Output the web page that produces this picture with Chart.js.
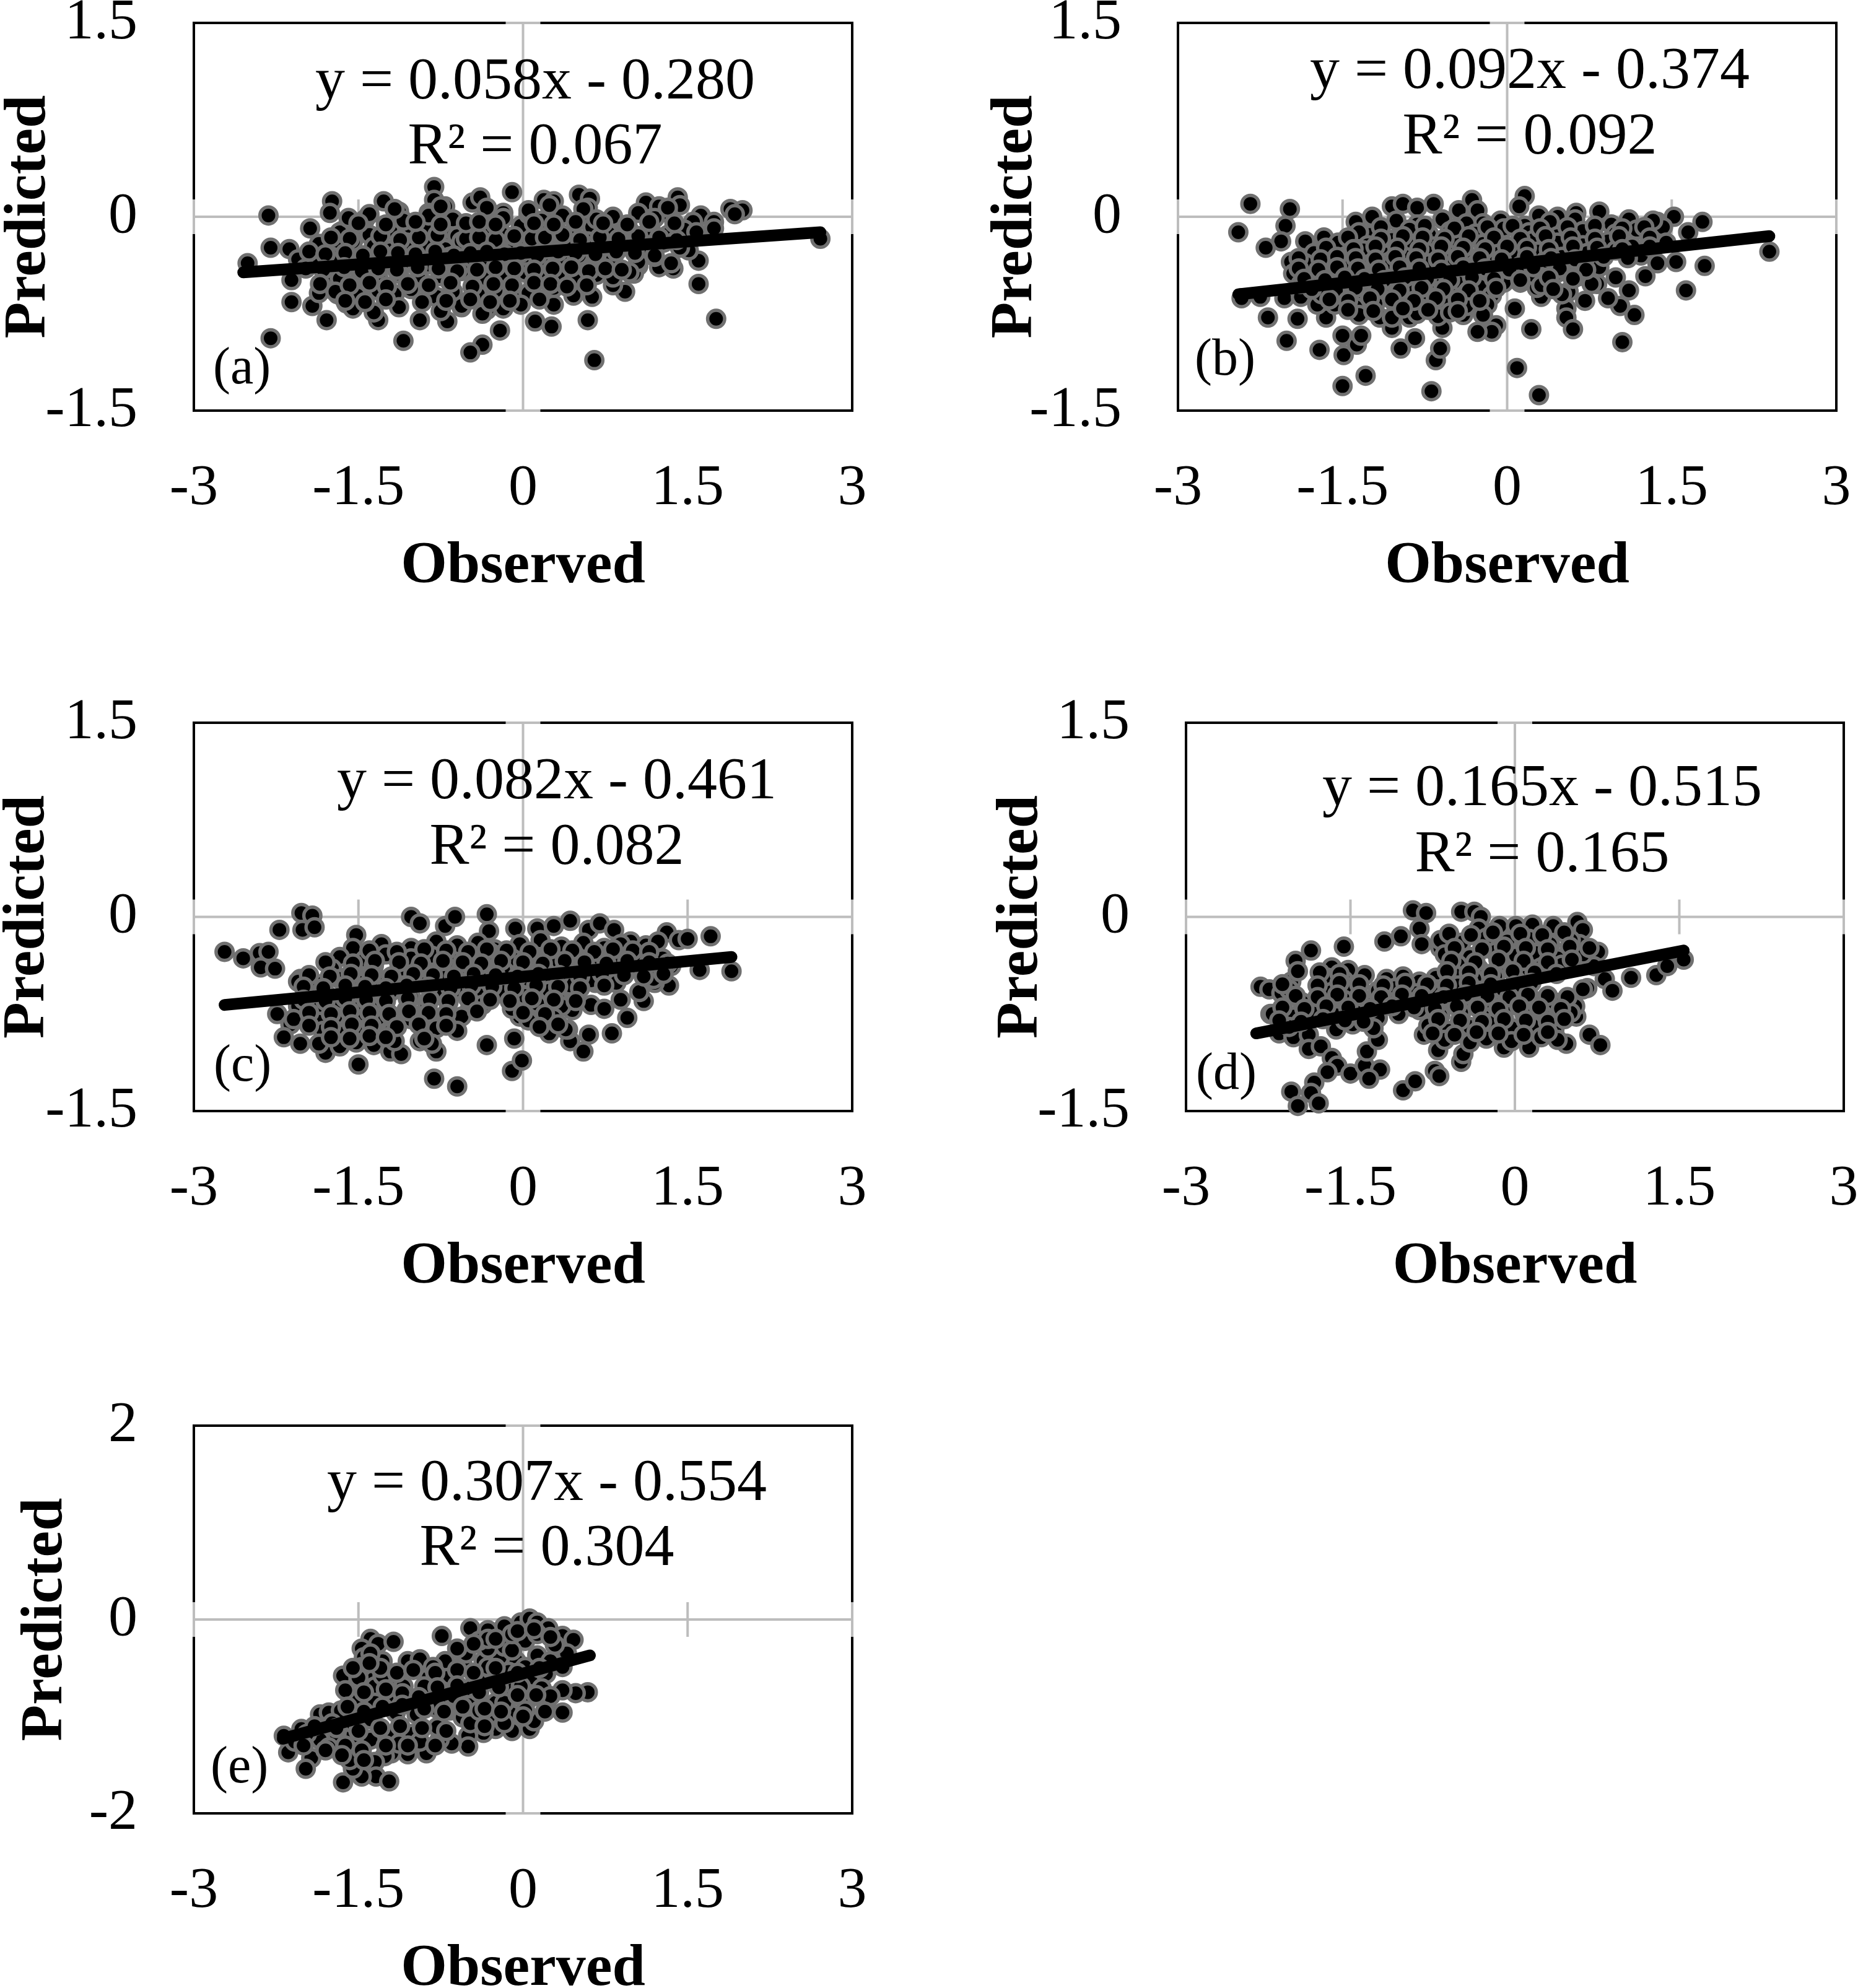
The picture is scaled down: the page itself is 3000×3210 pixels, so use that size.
<!DOCTYPE html>
<html>
<head>
<meta charset="utf-8">
<title>Observed vs Predicted</title>
<script src="https://cdn.jsdelivr.net/npm/chart.js@4.4.1/dist/chart.umd.min.js"></script>
<style>
  html, body { margin: 0; padding: 0; background: #fff; overflow: hidden; }
  #page { position: relative; width: 3000px; height: 3210px; overflow: hidden; background: #fff; }
  #page canvas { position: absolute; }
</style>
</head>
<body>
<div id="page"></div>
<script>
// observed / predicted pairs (outer points + dense core)
const panelA = [
  [-2.32,0.01],[-2.51,-0.36],[-2.30,-0.24],[-2.13,-0.25],[-1.94,-0.09],[-2.11,-0.49],[-2.11,-0.66],[-2.30,-0.94],
  [-1.92,-0.69],[-1.79,-0.80],[-1.86,-0.59],[-1.69,-0.60],[-1.61,-0.67],[-1.74,0.12],[-1.76,0.03],[-1.65,-0.11],
  [-1.46,-0.04],[-1.44,-0.02],[-1.27,0.12],[-1.13,0.04],[-1.09,-0.04],[-1.32,-0.80],[-1.09,-0.96],[-0.94,-0.80],
  [-0.69,-0.81],[-0.81,0.23],[-0.81,0.13],[-0.71,0.08],[-0.86,0.03],[-0.46,0.11],[-0.39,0.15],[-0.10,0.19],
  [-0.18,0.03],[-0.21,-0.88],[-0.37,-0.99],[-0.48,-1.05],[-0.56,-0.70],[-0.33,-0.72],[0.11,-0.81],[0.26,-0.85],
  [0.28,-0.68],[0.46,-0.61],[0.59,-0.80],[0.63,-0.62],[0.65,-1.11],[0.19,0.13],[0.28,0.12],[0.51,0.17],
  [0.61,0.14],[0.59,0.07],[0.61,-0.02],[0.82,-0.03],[0.93,-0.08],[1.12,0.11],[1.24,0.08],[1.41,0.15],
  [1.43,0.09],[1.32,0.03],[1.62,0.01],[1.74,-0.04],[1.89,0.06],[2.00,0.05],[1.93,0.02],[2.71,-0.17],
  [1.60,-0.34],[1.60,-0.52],[1.76,-0.79],[1.37,-0.40],[1.24,-0.39],[1.05,-0.38],[0.93,-0.58],[0.82,-0.53],
  [0.74,-0.38],[1.01,-0.44],[1.51,-0.26],[1.40,-0.19],[1.62,-0.14],[1.74,-0.09],[1.55,-0.04],
  [-1.67,-0.12],[-1.48,-0.09],[-1.40,-0.14],[-1.21,-0.10],[-1.02,-0.13],[-0.86,-0.08],[-0.71,-0.12],[-0.60,-0.15],
  [-0.48,-0.09],[-0.33,-0.11],[-0.18,-0.14],[-0.02,-0.07],[0.13,-0.12],[0.28,-0.10],[0.44,-0.15],[0.63,-0.08],
  [0.78,-0.13],[0.97,-0.11],[1.16,-0.09],[1.32,-0.14],[1.47,-0.10],[1.58,-0.12],
  [-1.86,-0.21],[-1.71,-0.24],[-1.55,-0.19],[-1.36,-0.23],[-1.21,-0.26],[-1.06,-0.20],[-0.90,-0.22],[-0.71,-0.25],
  [-0.56,-0.19],[-0.41,-0.23],[-0.25,-0.21],[-0.10,-0.26],[0.05,-0.20],[0.24,-0.24],[0.40,-0.22],[0.59,-0.19],
  [0.74,-0.25],[0.93,-0.21],[1.12,-0.23],[1.28,-0.20],[1.43,-0.24],
  [-2.05,-0.33],[-1.90,-0.36],[-1.74,-0.31],[-1.55,-0.35],[-1.40,-0.38],[-1.25,-0.32],[-1.06,-0.34],[-0.86,-0.37],
  [-0.67,-0.31],[-0.52,-0.35],[-0.33,-0.33],[-0.18,-0.38],[0.02,-0.32],[0.17,-0.36],[0.36,-0.34],[0.51,-0.30],
  [0.67,-0.37],[0.82,-0.33],[1.05,-0.35],[1.20,-0.31],[1.35,-0.36],
  [-1.78,-0.45],[-1.67,-0.48],[-1.48,-0.43],[-1.32,-0.47],[-1.13,-0.44],[-0.94,-0.49],[-0.75,-0.46],[-0.56,-0.42],
  [-0.33,-0.48],[-0.18,-0.45],[0.02,-0.43],[0.17,-0.47],[0.32,-0.44],[0.47,-0.49],[0.67,-0.45],[0.82,-0.47],[0.97,-0.43],
  [-1.71,-0.58],[-1.51,-0.61],[-1.32,-0.57],[-1.17,-0.60],[-1.02,-0.56],[-0.79,-0.62],[-0.64,-0.58],[-0.41,-0.60],
  [-0.25,-0.57],[-0.06,-0.61],[0.05,-0.59],[0.28,-0.55],
  [-1.55,-0.71],[-1.36,-0.74],[-1.13,-0.70],[-0.75,-0.73],[-0.56,-0.69],[-0.37,-0.75],[-0.18,-0.71],[-0.02,-0.68],
  [-1.59,-0.01],[-1.40,0.02],[-1.09,-0.03],[-0.86,0.01],[-0.64,-0.02],[-0.33,0.03],[-0.18,-0.01],[0.05,0.02],
  [0.17,-0.03],[0.36,0.01],[0.67,-0.02],[0.82,0.00],[1.05,0.03],[1.20,-0.01],
  [-1.17,0.06],[-0.75,0.08],[-0.33,0.07],[0.05,0.05],[0.24,0.09],[0.55,0.06],[1.32,0.07],
  [-1.75,-0.16],[-1.58,-0.17],[-1.30,-0.15],[-1.12,-0.18],[-0.95,-0.16],[-0.78,-0.14],[-0.52,-0.17],[-0.40,-0.16],
  [-0.25,-0.18],[-0.08,-0.15],[0.08,-0.17],[0.20,-0.16],[0.36,-0.14],[0.52,-0.18],[0.70,-0.16],[0.87,-0.17],
  [1.05,-0.15],[1.24,-0.16],[1.40,-0.18],
  [-1.95,-0.27],[-1.80,-0.29],[-1.62,-0.28],[-1.46,-0.30],[-1.30,-0.27],[-1.14,-0.28],[-0.98,-0.29],[-0.80,-0.27],
  [-0.63,-0.30],[-0.48,-0.28],[-0.33,-0.27],[-0.17,-0.29],[-0.02,-0.28],[0.13,-0.30],[0.32,-0.27],[0.48,-0.28],
  [0.66,-0.29],[0.85,-0.27],[1.02,-0.28],[1.20,-0.30],
  [-1.98,-0.40],[-1.82,-0.41],[-1.63,-0.39],[-1.47,-0.42],[-1.32,-0.40],[-1.15,-0.41],[-0.96,-0.39],[-0.77,-0.40],
  [-0.60,-0.42],[-0.42,-0.41],[-0.25,-0.39],[-0.08,-0.40],[0.10,-0.41],[0.27,-0.40],[0.44,-0.39],[0.60,-0.42],
  [0.75,-0.40],[0.90,-0.41],
  [-1.85,-0.52],[-1.58,-0.53],[-1.40,-0.51],[-1.24,-0.54],[-1.05,-0.52],[-0.86,-0.53],[-0.66,-0.51],[-0.46,-0.54],
  [-0.27,-0.52],[-0.10,-0.53],[0.10,-0.51],[0.25,-0.52],[0.40,-0.54],[0.58,-0.53],
  [-1.62,-0.65],[-1.44,-0.66],[-1.25,-0.64],[-0.92,-0.66],[-0.70,-0.65],[-0.48,-0.64],[-0.30,-0.66],[-0.12,-0.65],[0.15,-0.64],
  [-1.50,-0.05],[-1.25,-0.06],[-0.98,-0.04],[-0.75,-0.06],[-0.52,-0.05],[-0.40,-0.04],[-0.25,-0.06],[0.10,-0.05],
  [0.28,-0.06],[0.48,-0.04],[0.73,-0.05],[0.95,-0.06],[1.15,-0.04],[1.38,-0.05]
];

const panelB = [
  [-2.34,0.10],[-2.45,-0.12],[-1.98,0.06],[-2.02,-0.07],[-2.06,-0.19],[-2.20,-0.24],[-2.42,-0.63],[-2.25,-0.62],
  [-2.18,-0.78],[-2.03,-0.63],[-2.01,-0.96],[-1.91,-0.79],[-1.88,-0.62],[-1.97,-0.35],[-1.84,-0.19],[-1.67,-0.16],
  [-1.71,-1.03],[-1.50,-1.31],[-1.29,-1.23],[-1.49,-1.07],[-1.50,-0.92],[-1.37,-0.99],[-1.33,-0.92],[-1.65,-0.78],
  [-1.73,-0.68],[-1.05,0.08],[-0.95,0.10],[-0.82,0.07],[-0.67,0.10],[-1.01,-0.03],[-1.23,0.00],[-1.25,-0.14],
  [-0.44,0.05],[-0.32,0.13],[-0.27,0.05],[-0.22,-0.05],[0.16,0.16],[0.11,0.08],[0.29,0.01],[0.46,0.00],
  [0.63,0.03],[0.84,0.04],[1.11,-0.02],[1.37,-0.04],[1.52,0.00],[1.78,-0.04],[1.65,-0.12],[1.42,-0.08],
  [2.39,-0.27],[1.80,-0.38],[1.63,-0.57],[1.54,-0.35],[1.37,-0.36],[1.26,-0.46],[1.11,-0.57],[1.16,-0.76],
  [1.03,-0.69],[1.05,-0.97],[0.92,-0.63],[0.99,-0.47],[0.82,-0.52],[0.71,-0.65],[0.56,-0.58],[0.54,-0.71],
  [0.54,-0.78],[0.60,-0.87],[0.22,-0.87],[0.07,-0.71],[0.09,-1.17],[0.29,-1.38],[0.31,-0.62],[0.27,-0.55],
  [0.12,-0.51],[-0.10,-0.84],[-0.14,-0.89],[-0.27,-0.89],[-0.23,-0.68],[-0.69,-1.35],[-0.65,-1.11],[-0.61,-1.02],
  [-0.84,-0.94],[-0.97,-1.02],[-1.05,-0.86],[-1.16,-0.78],[-0.89,-0.78],[-0.59,-0.86],[-0.40,-0.76],
  [-1.38,-0.04],[-0.82,-0.06],[-0.59,-0.02],[-0.37,-0.05],[-0.06,-0.03],[0.16,-0.07],[0.39,-0.04],[0.62,-0.02],
  [0.95,-0.06],[1.33,-0.03],
  [-1.35,-0.12],[-0.89,-0.10],[-0.71,-0.14],[-0.52,-0.11],[-0.29,-0.13],[-0.03,-0.09],[0.20,-0.12],[0.46,-0.15],
  [0.69,-0.11],[0.99,-0.13],[1.18,-0.10],
  [-1.54,-0.20],[-1.27,-0.22],[-1.05,-0.18],[-0.86,-0.21],[-0.67,-0.23],[-0.44,-0.19],[-0.22,-0.21],[0.01,-0.24],
  [0.24,-0.18],[0.46,-0.20],[0.69,-0.22],[0.92,-0.19],[1.14,-0.23],[1.45,-0.20],
  [-1.76,-0.28],[-1.46,-0.30],[-1.31,-0.26],[-1.12,-0.29],[-0.93,-0.31],[-0.74,-0.27],[-0.55,-0.28],[-0.37,-0.30],
  [-0.14,-0.26],[0.05,-0.29],[0.28,-0.27],[0.50,-0.31],[0.73,-0.28],[0.99,-0.26],[1.22,-0.30],
  [-1.84,-0.36],[-1.65,-0.38],[-1.46,-0.34],[-1.27,-0.37],[-1.08,-0.35],[-0.89,-0.39],[-0.71,-0.36],[-0.52,-0.33],
  [-0.29,-0.37],[-0.10,-0.35],[0.12,-0.38],[0.35,-0.34],[0.62,-0.36],[0.84,-0.39],
  [-1.95,-0.44],[-1.76,-0.46],[-1.57,-0.42],[-1.38,-0.45],[-1.20,-0.43],[-1.01,-0.47],[-0.82,-0.44],[-0.59,-0.42],
  [-0.40,-0.46],[-0.22,-0.44],[0.01,-0.41],[0.24,-0.45],[0.46,-0.43],[0.65,-0.46],
  [-1.88,-0.52],[-1.65,-0.54],[-1.46,-0.50],[-1.27,-0.53],[-1.08,-0.51],[-0.86,-0.55],[-0.67,-0.52],[-0.44,-0.50],
  [-0.25,-0.54],[-0.03,-0.51],[0.31,-0.53],[0.77,-0.52],
  [-1.69,-0.60],[-1.50,-0.62],[-1.31,-0.59],[-1.12,-0.61],[-0.89,-0.58],[-0.71,-0.62],[-0.52,-0.60],[-0.37,-0.59],
  [-0.14,-0.61],[0.50,-0.60],
  [-1.57,-0.68],[-1.38,-0.70],[-1.20,-0.67],[-1.01,-0.69],[-0.78,-0.71],[-0.55,-0.67],[-0.37,-0.69],[-0.18,-0.68],
  [-1.35,-0.76],[-1.05,-0.78],[-0.82,-0.75],[-0.63,-0.77],[-0.52,-0.74],[-0.22,-0.76],
  [-1.15,-0.08],[-0.75,-0.07],[-0.48,-0.09],[-0.18,-0.08],[0.05,-0.07],[0.30,-0.09],[0.55,-0.08],[0.80,-0.07],
  [1.05,-0.09],[1.25,-0.08],
  [-1.45,-0.16],[-1.15,-0.17],[-0.95,-0.15],[-0.77,-0.16],[-0.57,-0.17],[-0.35,-0.15],[-0.12,-0.16],[0.12,-0.17],
  [0.35,-0.15],[0.58,-0.16],[0.80,-0.17],[1.02,-0.15],[1.30,-0.16],
  [-1.65,-0.24],[-1.40,-0.25],[-1.20,-0.23],[-1.00,-0.24],[-0.80,-0.25],[-0.60,-0.23],[-0.40,-0.24],[-0.20,-0.25],
  [0.00,-0.23],[0.18,-0.24],[0.38,-0.25],[0.60,-0.23],[0.82,-0.24],[1.05,-0.25],[1.30,-0.23],
  [-1.90,-0.32],[-1.70,-0.33],[-1.55,-0.31],[-1.38,-0.32],[-1.20,-0.33],[-1.02,-0.31],[-0.83,-0.32],[-0.63,-0.33],
  [-0.45,-0.31],[-0.25,-0.32],[-0.05,-0.33],[0.18,-0.31],[0.40,-0.32],[0.62,-0.33],[0.88,-0.31],[1.10,-0.32],
  [-1.90,-0.40],[-1.72,-0.41],[-1.55,-0.39],[-1.36,-0.40],[-1.17,-0.41],[-0.98,-0.39],[-0.80,-0.40],[-0.60,-0.41],
  [-0.40,-0.39],[-0.20,-0.40],[0.02,-0.41],[0.24,-0.39],[0.48,-0.40],[0.72,-0.41],
  [-1.85,-0.48],[-1.66,-0.49],[-1.48,-0.47],[-1.30,-0.48],[-1.12,-0.49],[-0.93,-0.47],[-0.73,-0.48],[-0.52,-0.49],
  [-0.32,-0.47],[-0.12,-0.48],[0.12,-0.49],[0.38,-0.47],[0.60,-0.48],
  [-1.78,-0.56],[-1.56,-0.57],[-1.38,-0.55],[-1.18,-0.56],[-0.98,-0.57],[-0.78,-0.55],[-0.58,-0.56],[-0.35,-0.57],
  [-0.10,-0.55],[0.42,-0.56],
  [-1.62,-0.64],[-1.45,-0.65],[-1.25,-0.63],[-1.05,-0.64],[-0.85,-0.65],[-0.65,-0.63],[-0.45,-0.64],[-0.25,-0.65],
  [-1.45,-0.72],[-1.22,-0.73],[-0.95,-0.71],[-0.72,-0.72],[-0.45,-0.73]
];

const panelC = [
  [-2.72,-0.27],[-2.55,-0.32],[-2.40,-0.28],[-2.32,-0.27],[-2.39,-0.39],[-2.26,-0.40],[-2.22,-0.10],[-2.02,0.03],
  [-1.92,0.01],[-2.01,-0.10],[-1.90,-0.08],[-1.52,-0.14],[-1.55,-0.24],[-2.03,-0.48],[-2.24,-0.75],[-2.12,-0.83],
  [-2.18,-0.93],[-2.03,-0.98],[-1.80,-1.05],[-1.50,-1.14],[-1.21,-1.04],[-1.11,-1.06],[-0.81,-1.25],[-0.60,-1.31],
  [-0.79,-1.04],[-0.33,-0.99],[-0.10,-1.19],[-0.01,-1.11],[-0.08,-0.94],[-0.94,-0.96],[-1.02,0.00],[-0.94,-0.05],
  [-0.71,-0.07],[-0.62,0.00],[-0.33,0.02],[-0.31,-0.11],[-0.07,-0.09],[0.13,-0.09],[0.28,-0.07],[0.43,-0.03],
  [0.60,-0.10],[0.70,-0.05],[0.83,-0.10],[0.98,-0.19],[1.12,-0.22],[1.31,-0.12],[1.42,-0.18],[1.50,-0.17],
  [1.71,-0.15],[1.61,-0.41],[1.90,-0.42],[1.33,-0.53],[1.20,-0.51],[1.10,-0.65],[1.06,-0.58],[0.89,-0.64],
  [0.95,-0.78],[0.81,-0.90],[0.60,-0.91],[0.43,-0.96],[0.55,-1.04],[0.41,-0.87],[0.26,-0.81],[0.09,-0.79],
  [-0.03,-0.77],[0.16,-0.71],[0.32,-0.64],[0.62,-0.68],[0.74,-0.71],[0.45,-0.72],[0.66,-0.51],[0.51,-0.50],
  [-1.29,-0.21],[-1.02,-0.24],[-0.79,-0.19],[-0.60,-0.22],[-0.41,-0.20],[-0.26,-0.25],[-0.03,-0.21],[0.16,-0.18],
  [0.35,-0.23],[0.55,-0.20],[0.74,-0.24],[0.89,-0.21],[1.23,-0.19],
  [-1.67,-0.31],[-1.44,-0.33],[-1.25,-0.29],[-1.02,-0.32],[-0.83,-0.30],[-0.64,-0.34],[-0.48,-0.31],[-0.29,-0.28],
  [-0.10,-0.32],[0.09,-0.30],[0.28,-0.33],[0.47,-0.29],[0.66,-0.31],[0.85,-0.34],[1.04,-0.30],[1.27,-0.32],
  [-1.74,-0.40],[-1.55,-0.42],[-1.36,-0.38],[-1.13,-0.41],[-0.94,-0.39],[-0.75,-0.43],[-0.56,-0.40],[-0.37,-0.37],
  [-0.18,-0.41],[0.01,-0.39],[0.20,-0.42],[0.39,-0.38],[0.58,-0.40],[0.77,-0.43],[0.97,-0.39],[1.16,-0.41],[1.35,-0.38],
  [-2.05,-0.50],[-1.86,-0.52],[-1.67,-0.48],[-1.48,-0.51],[-1.29,-0.49],[-1.10,-0.53],[-0.90,-0.50],[-0.71,-0.47],
  [-0.52,-0.51],[-0.33,-0.49],[-0.14,-0.52],[0.05,-0.48],[0.24,-0.50],[0.43,-0.53],[0.62,-0.49],[0.85,-0.51],[1.19,-0.48],
  [-1.97,-0.59],[-1.78,-0.61],[-1.59,-0.57],[-1.40,-0.60],[-1.21,-0.58],[-1.02,-0.62],[-0.79,-0.59],[-0.60,-0.56],
  [-0.41,-0.60],[-0.18,-0.58],[0.01,-0.61],[0.24,-0.57],
  [-2.05,-0.69],[-1.86,-0.71],[-1.67,-0.67],[-1.48,-0.70],[-1.29,-0.68],[-1.06,-0.72],[-0.87,-0.69],[-0.68,-0.66],
  [-0.48,-0.70],[-0.37,-0.68],[-0.10,-0.71],[0.13,-0.67],[0.35,-0.69],
  [-2.09,-0.79],[-1.86,-0.81],[-1.71,-0.77],[-1.52,-0.80],[-1.32,-0.78],[-1.17,-0.82],[-1.02,-0.79],[-0.56,-0.77],
  [0.05,-0.80],[0.28,-0.78],
  [-1.82,-0.88],[-1.63,-0.90],[-1.44,-0.87],[-1.21,-0.89],[-0.79,-0.86],[-0.60,-0.88],[0.24,-0.90],[0.39,-0.87],
  [-1.86,-0.98],[-1.67,-1.00],[-1.52,-0.97],[-1.36,-0.99],[-1.17,-0.96],[-0.83,-0.98],
  [-1.40,-0.26],[-1.15,-0.27],[-0.90,-0.25],[-0.70,-0.26],[-0.50,-0.27],[-0.33,-0.25],[-0.15,-0.26],[0.06,-0.27],
  [0.25,-0.25],[0.45,-0.26],[0.65,-0.27],[0.82,-0.25],[1.00,-0.26],[1.15,-0.27],
  [-1.80,-0.35],[-1.55,-0.36],[-1.35,-0.34],[-1.13,-0.35],[-0.93,-0.36],[-0.73,-0.34],[-0.55,-0.35],[-0.38,-0.36],
  [-0.20,-0.34],[0.00,-0.35],[0.18,-0.36],[0.38,-0.34],[0.56,-0.35],[0.76,-0.36],[0.95,-0.34],[1.15,-0.35],[1.32,-0.36],
  [-1.95,-0.45],[-1.76,-0.46],[-1.57,-0.44],[-1.38,-0.45],[-1.20,-0.46],[-1.00,-0.44],[-0.82,-0.45],[-0.63,-0.46],
  [-0.45,-0.44],[-0.25,-0.45],[-0.05,-0.46],[0.14,-0.44],[0.33,-0.45],[0.52,-0.46],[0.72,-0.44],[0.92,-0.45],
  [1.10,-0.46],[1.28,-0.44],
  [-2.00,-0.54],[-1.82,-0.55],[-1.62,-0.53],[-1.44,-0.54],[-1.25,-0.55],[-1.06,-0.53],[-0.86,-0.54],[-0.66,-0.55],
  [-0.47,-0.53],[-0.28,-0.54],[-0.08,-0.55],[0.12,-0.53],[0.32,-0.54],[0.52,-0.55],[0.74,-0.53],
  [-2.00,-0.64],[-1.80,-0.65],[-1.62,-0.63],[-1.43,-0.64],[-1.25,-0.65],[-1.05,-0.63],[-0.85,-0.64],[-0.68,-0.65],
  [-0.50,-0.63],[-0.30,-0.64],[-0.12,-0.65],[0.08,-0.63],[0.28,-0.64],[0.48,-0.65],
  [-1.95,-0.74],[-1.75,-0.75],[-1.58,-0.73],[-1.40,-0.74],[-1.22,-0.75],[-1.04,-0.73],[-0.86,-0.74],[-0.70,-0.75],
  [-0.42,-0.73],[0.00,-0.74],[0.20,-0.75],
  [-1.95,-0.84],[-1.75,-0.85],[-1.56,-0.83],[-1.38,-0.84],[-1.15,-0.85],[-0.95,-0.83],[-0.70,-0.84],[0.15,-0.85],[0.32,-0.83],
  [-1.75,-0.93],[-1.58,-0.94],[-1.40,-0.92],[-1.25,-0.93],[-0.90,-0.94]
];

const panelD = [
  [-2.32,-0.54],[-2.24,-0.56],[-2.13,-0.59],[-2.04,-0.50],[-2.00,-0.34],[-1.86,-0.26],[-1.98,-0.42],[-1.56,-0.23],
  [-2.23,-0.75],[-2.11,-0.74],[-2.15,-0.90],[-2.02,-0.93],[-1.88,-0.91],[-1.88,-1.02],[-1.77,-1.00],[-1.67,-1.09],
  [-1.62,-1.15],[-1.71,-1.20],[-1.83,-1.28],[-2.04,-1.35],[-1.86,-1.36],[-1.98,-1.46],[-1.79,-1.44],[-1.50,-1.21],
  [-1.37,-1.15],[-1.35,-1.04],[-1.23,-1.18],[-1.33,-1.25],[-1.25,-0.95],[-1.02,-1.34],[-0.91,-1.27],[-0.73,-1.19],
  [-0.69,-1.23],[-0.49,-1.12],[-0.47,-1.06],[-0.70,-1.03],[-0.83,-0.91],[-0.93,0.05],[-0.81,0.03],[-0.87,-0.09],
  [-0.85,-0.21],[-0.68,-0.24],[-1.04,-0.15],[-1.19,-0.19],[-0.49,0.04],[-0.37,0.04],[-0.31,0.00],[-0.33,-0.09],
  [-0.14,-0.07],[0.01,-0.07],[0.16,-0.06],[0.35,-0.07],[0.57,-0.04],[0.62,-0.10],[0.59,-0.21],[0.76,-0.27],
  [0.82,-0.48],[0.89,-0.57],[1.06,-0.47],[1.29,-0.45],[1.39,-0.38],[1.54,-0.33],[0.68,-0.91],[0.78,-0.99],
  [0.47,-0.98],[0.56,-0.77],[0.54,-0.69],[0.32,-0.64],[0.13,-1.01],[-0.10,-1.01],[0.01,-0.90],[0.72,-0.38],[0.66,-0.55],
  [-0.68,-0.18],[-0.49,-0.20],[-0.26,-0.16],[-0.07,-0.19],[0.13,-0.17],[0.32,-0.21],[0.51,-0.18],
  [-0.64,-0.29],[-0.41,-0.31],[-0.18,-0.27],[0.01,-0.30],[0.20,-0.28],[0.39,-0.32],[0.62,-0.29],
  [-1.67,-0.39],[-1.52,-0.41],[-0.52,-0.37],[-0.33,-0.40],[-0.14,-0.38],[0.05,-0.42],[0.24,-0.39],[0.43,-0.37],
  [-1.71,-0.47],[-1.56,-0.49],[-1.37,-0.45],[-1.17,-0.48],[-1.02,-0.46],[-0.87,-0.50],[-0.72,-0.47],[-0.56,-0.44],
  [-0.37,-0.48],[-0.18,-0.46],[0.01,-0.49],[0.20,-0.45],
  [-2.06,-0.56],[-1.67,-0.58],[-1.48,-0.54],[-1.25,-0.57],[-1.10,-0.55],[-0.91,-0.59],[-0.72,-0.56],[-0.52,-0.53],
  [-0.33,-0.57],[-0.14,-0.55],[0.05,-0.58],[0.62,-0.56],
  [-1.94,-0.66],[-1.75,-0.68],[-1.56,-0.64],[-1.37,-0.67],[-1.17,-0.65],[-0.98,-0.69],[-0.79,-0.66],[-0.60,-0.63],
  [-0.41,-0.67],[-0.22,-0.65],[-0.03,-0.68],[0.16,-0.64],[0.36,-0.66],[0.55,-0.69],
  [-2.21,-0.75],[-2.02,-0.77],[-1.83,-0.73],[-1.63,-0.76],[-1.44,-0.74],[-1.25,-0.78],[-1.06,-0.75],[-0.87,-0.72],
  [-0.68,-0.76],[-0.49,-0.74],[-0.29,-0.77],[-0.10,-0.73],[0.09,-0.75],[0.28,-0.78],[0.51,-0.74],
  [-2.06,-0.85],[-1.63,-0.87],[-1.48,-0.83],[-1.29,-0.86],[-0.79,-0.84],[-0.60,-0.88],[-0.41,-0.85],[-0.22,-0.82],
  [-0.03,-0.86],[0.16,-0.84],[0.36,-0.87],
  [-0.64,-0.95],[-0.41,-0.97],[-0.26,-0.94],[-0.03,-0.96],[0.24,-0.93],[0.39,-0.95],
  [-0.60,-0.13],[-0.40,-0.14],[-0.20,-0.12],[0.05,-0.13],[0.25,-0.14],[0.45,-0.12],
  [-0.55,-0.24],[-0.30,-0.25],[-0.10,-0.23],[0.10,-0.24],[0.30,-0.25],[0.50,-0.23],[0.68,-0.24],
  [-0.58,-0.34],[-0.36,-0.35],[-0.15,-0.33],[0.08,-0.34],[0.30,-0.35],[0.52,-0.33],
  [-1.78,-0.43],[-1.60,-0.44],[-0.62,-0.42],[-0.42,-0.43],[-0.22,-0.44],[-0.02,-0.42],[0.18,-0.43],[0.38,-0.44],
  [-2.12,-0.52],[-1.80,-0.53],[-1.60,-0.51],[-1.42,-0.52],[-1.20,-0.53],[-1.00,-0.51],[-0.80,-0.52],[-0.62,-0.53],
  [-0.42,-0.51],[-0.22,-0.52],[0.00,-0.53],[0.15,-0.51],
  [-2.00,-0.61],[-1.80,-0.62],[-1.62,-0.60],[-1.42,-0.61],[-1.22,-0.62],[-1.03,-0.60],[-0.85,-0.61],[-0.65,-0.62],
  [-0.45,-0.60],[-0.25,-0.61],[-0.05,-0.62],[0.12,-0.60],[0.30,-0.61],[0.48,-0.62],
  [-2.12,-0.70],[-1.92,-0.71],[-1.72,-0.69],[-1.52,-0.70],[-1.32,-0.71],[-1.12,-0.69],[-0.92,-0.70],[-0.73,-0.71],
  [-0.53,-0.69],[-0.34,-0.70],[-0.15,-0.71],[0.04,-0.69],[0.22,-0.70],[0.42,-0.71],
  [-2.15,-0.80],[-1.95,-0.81],[-1.75,-0.79],[-1.55,-0.80],[-1.38,-0.81],[-0.70,-0.79],[-0.50,-0.80],[-0.30,-0.81],
  [-0.10,-0.79],[0.10,-0.80],[0.30,-0.81],[0.45,-0.79],
  [-0.75,-0.90],[-0.55,-0.91],[-0.35,-0.89],[-0.15,-0.90],[0.08,-0.91],[0.30,-0.89]
];

const panelE = [
  [-0.74,-0.17],[-1.39,-0.20],[-1.32,-0.25],[-1.18,-0.23],[-1.47,-0.30],[-1.45,-0.39],[-0.48,-0.09],[-0.32,-0.11],
  [-0.17,-0.07],[-0.02,-0.03],[0.06,0.01],[0.13,-0.03],[0.23,-0.09],[0.36,-0.17],[0.46,-0.21],[0.40,-0.35],
  [0.59,-0.75],[0.48,-0.76],[0.36,-0.73],[0.36,-0.96],[0.21,-0.86],[0.06,-1.13],[-0.10,-1.15],[-0.25,-1.13],
  [-0.36,-1.17],[-0.50,-1.20],[-0.50,-1.31],[-0.65,-1.28],[-0.76,-1.24],[-0.88,-1.38],[-1.05,-1.39],[-1.20,-1.38],
  [-1.26,-1.41],[-1.35,-1.47],[-1.34,-1.62],[-1.22,-1.67],[-1.47,-1.62],[-1.64,-1.68],[-1.55,-1.54],[-1.58,-1.45],
  [-1.93,-1.43],[-1.98,-1.54],[-2.12,-1.28],[-2.18,-1.20],[-2.14,-1.37],[-2.02,-1.13],[-1.85,-0.98],[-1.77,-0.96],
  [-1.66,-0.94],[-1.58,-0.60],[-1.64,-0.58],[-1.39,-0.54],[-1.35,-0.69],[-1.24,-0.64],[-1.05,-0.43],[-0.94,-0.41],
  [-0.86,-0.60],[-0.71,-0.69],[-0.55,-0.47],[-0.36,-0.43],[-0.21,-0.39],[-0.06,-0.43],[0.10,-0.60],[0.21,-0.56],
  [-0.10,-0.73],[0.06,-0.81],[-0.25,-0.86],[-0.48,-0.83],[-0.67,-0.94],[-0.55,-1.01],[-0.32,-1.01],[-0.10,-0.98],
  [0.10,-1.05],[-1.05,-0.81],[-1.24,-0.79],[-1.35,-0.86],[-1.51,-0.81],[-0.86,-0.77],[-0.71,-0.81],[-1.01,-1.18],
  [-1.24,-1.18],[-1.39,-1.24],[-1.55,-1.20],[-1.70,-1.18],[-1.85,-1.24],[-1.13,-1.28],[-0.67,-0.58],[-0.25,-0.60],
  [-0.48,-0.71],[-0.17,-0.28],[-0.32,-0.30],[0.02,-0.22],[0.13,-0.37],[-0.10,-0.32],[-0.40,-0.22],
  [-1.47,-0.49],[-1.28,-0.58],[-1.09,-0.69],[-0.90,-0.69],[-1.16,-0.96],[-0.97,-0.98],[-0.78,-0.92],[-0.63,-0.79],
  [-0.40,-0.64],[-0.32,-0.49],[-0.13,-0.54],[0.02,-0.49],[-0.02,-0.69],[0.17,-0.71],[0.25,-0.43],[0.29,-0.26],
  [0.13,-0.15],[-0.10,-0.15],[-0.32,-0.20],[-0.52,-0.35],[-0.71,-0.43],[-0.82,-0.49],[-1.28,-0.43],[-1.39,-0.35],
  [-1.62,-0.73],[-1.74,-1.07],[-1.55,-1.07],[-1.39,-1.03],[-1.97,-1.18],[-2.08,-1.26],[-1.77,-1.32],[-1.62,-1.30],
  [-1.47,-1.35],[-0.94,-1.26],[-0.78,-1.11],[-0.48,-1.07],[-0.17,-1.07],[-0.40,-0.94],[-0.17,-0.86],[0.02,-0.94],
  [0.25,-0.79],[0.36,-0.49],
  [-1.50,-0.60],[-1.30,-0.50],[-1.15,-0.55],[-1.00,-0.52],[-0.80,-0.55],[-0.60,-0.52],[-0.45,-0.55],[-0.25,-0.50],
  [-0.05,-0.55],[0.15,-0.50],
  [-1.45,-0.75],[-1.25,-0.72],[-1.10,-0.76],[-0.95,-0.80],[-0.78,-0.70],[-0.60,-0.68],[-0.40,-0.75],[-0.22,-0.70],
  [-0.05,-0.78],[0.12,-0.78],
  [-1.60,-0.90],[-1.45,-0.95],[-1.28,-0.90],[-1.10,-0.88],[-0.90,-0.92],[-0.72,-0.95],[-0.55,-0.90],[-0.35,-0.92],
  [-0.20,-0.95],[0.00,-1.00],[0.20,-0.95],
  [-1.90,-1.10],[-1.70,-1.12],[-1.50,-1.15],[-1.30,-1.12],[-1.12,-1.10],[-0.92,-1.12],[-0.70,-1.15],[-0.35,-1.10],
  [-2.00,-1.30],[-1.80,-1.35],[-1.65,-1.40],[-1.45,-1.45],[-1.25,-1.30],[-1.05,-1.30],[-0.80,-1.30],
  [-0.60,-0.30],[-0.45,-0.25],[-0.25,-0.20],[-0.05,-0.12],[0.10,-0.10],[0.25,-0.18],[-1.40,-0.45],[-1.55,-0.50]
];

// fitted line end points
const trendA = [[-2.55,-0.43],[2.71,-0.12]];
const trendB = [[-2.45,-0.60],[2.39,-0.15]];
const trendC = [[-2.72,-0.68],[1.90,-0.31]];
const trendD = [[-2.36,-0.90],[1.54,-0.26]];
const trendE = [[-2.19,-1.23],[0.61,-0.37]];

const equations = ['y = 0.058x - 0.280', 'y = 0.092x - 0.374', 'y = 0.082x - 0.461', 'y = 0.165x - 0.515', 'y = 0.307x - 0.554'];
const rSquared = ['R² = 0.067', 'R² = 0.092', 'R² = 0.082', 'R² = 0.165', 'R² = 0.304'];
const panelTags = ['(a)', '(b)', '(c)', '(d)', '(e)'];

const xRange = [-3, 3], xStep = 1.5;
const yRanges = [[-1.5, 1.5], [-1.5, 1.5], [-1.5, 1.5], [-1.5, 1.5], [-2, 2]];
const ySteps = [1.5, 1.5, 1.5, 1.5, 2];

const FONT = "'Liberation Serif', 'Times New Roman', serif";

// where each plot box sits on the page (left, top, right, bottom)
const layouts = [
  { box: [313, 37, 1376, 663],     col: 0,    yTitleX: 47,   eqX: 551, eqY: [97, 202],  tag: [31, 560] },
  { box: [1902, 37, 2965, 663],    col: 1500, yTitleX: 1640, eqX: 568, eqY: [80, 186],  tag: [27, 546] },
  { box: [313, 1167, 1376, 1794],  col: 0,    yTitleX: 45,   eqX: 586, eqY: [97, 203],  tag: [32, 556] },
  { box: [1915, 1167, 2977, 1794], col: 1500, yTitleX: 1649, eqX: 575, eqY: [108, 215], tag: [16, 569] },
  { box: [313, 2302, 1376, 2928],  col: 0,    yTitleX: 74,   eqX: 570, eqY: [95, 200],  tag: [27, 554] }
];

const framePlugin = {
  id: 'frame',
  beforeDatasetsDraw(chart) {
    const { ctx, chartArea: a, scales: { x, y } } = chart;
    ctx.save();
    ctx.strokeStyle = '#000';
    ctx.lineWidth = 4;
    ctx.strokeRect(a.left, a.top, a.right - a.left, a.bottom - a.top);

    // axes cross at zero, with cross tick marks (drawn over the frame)
    const x0 = x.getPixelForValue(0), y0 = y.getPixelForValue(0);
    ctx.strokeStyle = '#bdbdbd';
    ctx.lineWidth = 4;
    ctx.beginPath();
    ctx.moveTo(a.left, y0); ctx.lineTo(a.right, y0);
    ctx.moveTo(x0, a.top); ctx.lineTo(x0, a.bottom);
    x.ticks.forEach(t => {
      const px = x.getPixelForValue(t.value);
      ctx.moveTo(px, y0 - 28); ctx.lineTo(px, y0 + 28);
    });
    y.ticks.forEach(t => {
      const py = y.getPixelForValue(t.value);
      ctx.moveTo(x0 - 28, py); ctx.lineTo(x0 + 28, py);
    });
    ctx.stroke();
    ctx.restore();
  },
  afterDraw(chart, args, opts) {
    const { ctx, chartArea: a } = chart;
    ctx.save();
    ctx.fillStyle = '#000';
    ctx.textBaseline = 'middle';
    ctx.textAlign = 'center';
    ctx.font = `96px ${FONT}`;
    ctx.fillText(opts.equation, a.left + opts.eqX, a.top + opts.eqY[0]);
    ctx.fillText(opts.r2, a.left + opts.eqX, a.top + opts.eqY[1]);
    ctx.textAlign = 'left';
    ctx.font = `84px ${FONT}`;
    ctx.fillText(opts.tag, a.left + opts.tagPos[0], a.top + opts.tagPos[1]);
    ctx.restore();
  }
};

const page = document.getElementById('page');
const points = [panelA, panelB, panelC, panelD, panelE];
const trends = [trendA, trendB, trendC, trendD, trendE];

layouts.forEach((lay, i) => {
  const [bl, bt, br, bb] = lay.box;
  // generous margins so Chart.js' own label padding never pushes the plot box
  const left = lay.col, top = bt - 160;
  const width = br - left + 100;
  const xTitleY = bb + 252;
  const height = xTitleY - top + 48 + 10;

  const canvas = document.createElement('canvas');
  canvas.width = width;
  canvas.height = height;
  canvas.style.left = left + 'px';
  canvas.style.top = top + 'px';
  canvas.style.width = width + 'px';
  canvas.style.height = height + 'px';
  page.appendChild(canvas);

  const boxL = bl - left, boxT = bt - top, boxR = br - left, boxB = bb - top;

  new Chart(canvas.getContext('2d'), {
    type: 'scatter',
    data: {
      datasets: [
        {
          type: 'line',
          data: trends[i].map(p => ({ x: p[0], y: p[1] })),
          borderColor: '#000',
          borderWidth: 19,
          borderCapStyle: 'round',
          pointRadius: 0,
          fill: false,
          order: 0,
          clip: false
        },
        {
          data: points[i].map(p => ({ x: p[0], y: p[1] })),
          backgroundColor: '#000',
          borderColor: '#707070',
          borderWidth: 5.5,
          pointRadius: 13.75,
          pointHoverRadius: 13.75,
          order: 1,
          clip: false
        }
      ]
    },
    options: {
      responsive: false,
      animation: false,
      devicePixelRatio: 1,
      events: [],
      layout: { autoPadding: false, padding: { left: 0, top: boxT, right: width - boxR, bottom: 0 } },
      plugins: {
        legend: { display: false },
        tooltip: { enabled: false },
        frame: { equation: equations[i], r2: rSquared[i], tag: panelTags[i], eqX: lay.eqX, eqY: lay.eqY, tagPos: lay.tag }
      },
      scales: {
        x: {
          type: 'linear',
          min: xRange[0], max: xRange[1],
          grid: { display: false },
          border: { display: false },
          ticks: { stepSize: xStep, padding: 62, color: '#000', font: { family: FONT, size: 94 } },
          title: {
            display: true, text: 'Observed', color: '#000',
            font: { family: FONT, size: 96, weight: 'bold', lineHeight: 1 },
            padding: { top: 0, bottom: height - (xTitleY - top) - 48 }
          },
          afterFit: s => { s.height = height - boxB; }
        },
        y: {
          type: 'linear',
          min: yRanges[i][0], max: yRanges[i][1],
          grid: { display: false },
          border: { display: false },
          ticks: { stepSize: ySteps[i], padding: 83, color: '#000', font: { family: FONT, size: 94 } },
          title: {
            display: true, text: 'Predicted', color: '#000',
            font: { family: FONT, size: 96, weight: 'bold', lineHeight: 1 },
            padding: { top: (lay.yTitleX - left) - 48, bottom: 0 }
          },
          afterFit: s => { s.width = boxL; }
        }
      }
    },
    plugins: [framePlugin]
  });
});
</script>
</body>
</html>
